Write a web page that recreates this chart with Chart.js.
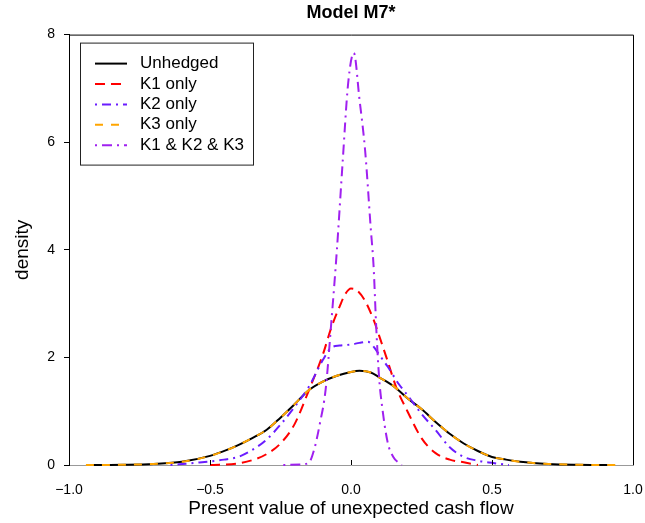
<!DOCTYPE html>
<html>
<head>
<meta charset="utf-8">
<script src="https://cdn.jsdelivr.net/npm/chart.js@4.4.1/dist/chart.umd.min.js"></script>
<style>
  html, body { margin: 0; padding: 0; background: #fff; }
  #wrap { width: 645px; height: 523px; }
</style>
</head>
<body>
<div id="wrap"><canvas id="densityChart" width="645" height="523"></canvas></div>
<script>
// series (x = present value, y = density)
var unhedgedX = [-0.92, -0.8, -0.7, -0.6, -0.5, -0.44, -0.4, -0.35, -0.3, -0.25, -0.2, -0.15, -0.1, -0.05, 0, 0.03, 0.07, 0.1, 0.15, 0.2, 0.25, 0.3, 0.35, 0.4, 0.45, 0.5, 0.55, 0.6, 0.7, 0.8, 0.91];
var unhedgedY = [0, 0.005, 0.02, 0.06, 0.17, 0.28, 0.37, 0.5, 0.65, 0.88, 1.13, 1.39, 1.55, 1.66, 1.73, 1.75, 1.72, 1.63, 1.47, 1.24, 1.04, 0.8, 0.58, 0.4, 0.26, 0.15, 0.1, 0.06, 0.02, 0.005, 0];

var k1X = [-0.5, -0.4, -0.35, -0.3, -0.25, -0.2, -0.15, -0.1, -0.07, -0.04, -0.02, 0, 0.02, 0.05, 0.08, 0.1, 0.13, 0.16, 0.2, 0.25, 0.3, 0.35, 0.4, 0.45];
var k1Y = [0, 0.03, 0.09, 0.2, 0.4, 0.76, 1.38, 2.05, 2.55, 2.95, 3.18, 3.28, 3.25, 3.05, 2.7, 2.4, 1.93, 1.45, 1.0, 0.5, 0.22, 0.1, 0.05, 0];

var k2X = [-0.64, -0.55, -0.45, -0.4, -0.35, -0.3, -0.25, -0.2, -0.15, -0.1, -0.07, -0.04, 0, 0.03, 0.06, 0.08, 0.1, 0.13, 0.17, 0.2, 0.25, 0.3, 0.35, 0.4, 0.45, 0.5, 0.56];
var k2Y = [0, 0.04, 0.1, 0.15, 0.28, 0.47, 0.75, 1.08, 1.45, 1.95, 2.18, 2.22, 2.24, 2.27, 2.29, 2.2, 2.05, 1.83, 1.5, 1.3, 0.95, 0.65, 0.33, 0.15, 0.08, 0.04, 0];

var k3X = [-0.94, -0.8, -0.7, -0.6, -0.5, -0.44, -0.4, -0.35, -0.3, -0.25, -0.2, -0.15, -0.1, -0.05, 0, 0.03, 0.07, 0.1, 0.15, 0.2, 0.25, 0.3, 0.35, 0.4, 0.45, 0.5, 0.55, 0.6, 0.7, 0.8, 0.94];
var k3Y = [0, 0.005, 0.02, 0.06, 0.17, 0.28, 0.37, 0.5, 0.65, 0.88, 1.13, 1.39, 1.55, 1.66, 1.73, 1.75, 1.72, 1.63, 1.47, 1.24, 1.04, 0.8, 0.58, 0.4, 0.26, 0.15, 0.1, 0.06, 0.02, 0.005, 0];

var allX = [-0.24, -0.18, -0.15, -0.13, -0.11, -0.09, -0.07, -0.05, -0.03, -0.01, 0.01, 0.03, 0.05, 0.07, 0.08, 0.09, 0.1, 0.11, 0.13, 0.15, 0.18];
var allY = [0, 0.01, 0.04, 0.3, 0.78, 1.4, 2.64, 4.0, 5.6, 7.1, 7.66, 6.8, 5.85, 4.4, 3.7, 2.5, 1.6, 1.1, 0.42, 0.15, 0];

var seriesNames = ['Unhedged', 'K1 only', 'K2 only', 'K3 only', 'K1 & K2 & K3'];
var xTicks = [-1, -0.5, 0, 0.5, 1];
var yTicks = [0, 2, 4, 6, 8];

var FONT = "'Liberation Sans', Arial, Helvetica, sans-serif";

function pts(xs, ys) {
  var out = [];
  for (var i = 0; i < xs.length; i++) out.push({ x: xs[i], y: ys[i] });
  return out;
}

function fmt(v) {
  var s = Math.abs(v).toFixed(1);
  return v < 0 ? '\u2212' + s : s;
}

// box around the plot + inward ticks on the x axis
var frame = {
  id: 'frame',
  afterDatasetsDraw: function (chart) {
    var ctx = chart.ctx, a = chart.chartArea, xs = chart.scales.x;
    ctx.save();
    ctx.strokeStyle = '#000';
    ctx.lineWidth = 1;
    ctx.beginPath();
    ctx.moveTo(a.left, a.top + 0.5);
    ctx.lineTo(a.right + 0.5, a.top + 0.5);
    ctx.lineTo(a.right + 0.5, a.bottom);
    ctx.stroke();
    ctx.beginPath();
    xs.ticks.forEach(function (t) {
      var px = Math.round(xs.getPixelForValue(t.value)) + 0.5;
      ctx.moveTo(px, a.bottom);
      ctx.lineTo(px, a.bottom - 5);
    });
    ctx.stroke();
    ctx.restore();
  }
};

// legend box in the top left of the plot
var boxLegend = {
  id: 'boxLegend',
  afterDraw: function (chart) {
    var ctx = chart.ctx, a = chart.chartArea;
    var left = a.left + 11, top = a.top + 8, w = 173, h = 122;
    ctx.save();
    ctx.strokeStyle = '#222';
    ctx.lineWidth = 1;
    ctx.strokeRect(left + 0.5, top + 0.5, w, h);
    ctx.font = '17px ' + FONT;
    ctx.textBaseline = 'middle';
    chart.data.datasets.forEach(function (ds, i) {
      var y = top + 21 + i * 20.4;
      ctx.strokeStyle = ds.borderColor;
      ctx.lineWidth = 2;
      ctx.setLineDash(ds.borderDash || []);
      ctx.beginPath();
      ctx.moveTo(left + 15, y);
      ctx.lineTo(left + 47, y);
      ctx.stroke();
      ctx.setLineDash([]);
      ctx.fillStyle = '#000';
      ctx.fillText(ds.label, left + 60, y);
    });
    ctx.restore();
  }
};

var styles = [
  { color: '#000000', dash: [], order: 5 },
  { color: '#ff0000', dash: [10, 6], order: 4 },
  { color: '#6a1cff', dash: [2, 5, 9, 5], order: 3 },
  { color: '#ffa500', dash: [8, 8], order: 2 },
  { color: '#a020f0', dash: [2, 5, 10, 5], order: 1 }
];
var series = [pts(unhedgedX, unhedgedY), pts(k1X, k1Y), pts(k2X, k2Y), pts(k3X, k3Y), pts(allX, allY)];

var datasets = [];
for (var i = 0; i < series.length; i++) {
  datasets.push({
    label: seriesNames[i],
    data: series[i],
    borderColor: styles[i].color,
    borderDash: styles[i].dash,
    borderWidth: 2,
    order: styles[i].order,
    pointRadius: 0,
    fill: false,
    clip: false,
    cubicInterpolationMode: 'monotone'
  });
}

new Chart(document.getElementById('densityChart').getContext('2d'), {
  type: 'line',
  data: { datasets: datasets },
  options: {
    responsive: false,
    animation: false,
    layout: { padding: { left: 0, right: 12, top: 0, bottom: 0 } },
    plugins: {
      legend: { display: false },
      tooltip: { enabled: false },
      title: {
        display: true,
        fullSize: false,
        text: 'Model M7*',
        color: '#000',
        font: { family: FONT, size: 18, weight: 'bold', lineHeight: 1.2 },
        padding: { top: 2, bottom: 11 }
      }
    },
    scales: {
      x: {
        type: 'linear',
        min: -1,
        max: 1,
        afterBuildTicks: function (s) { s.ticks = xTicks.map(function (v) { return { value: v }; }); },
        afterFit: function (s) { s.height = 58; s.paddingLeft = 0; s.paddingRight = 0; },
        ticks: {
          callback: fmt,
          color: '#000',
          font: { family: FONT, size: 14 },
          padding: 17,
          maxRotation: 0,
          autoSkip: false
        },
        grid: { drawOnChartArea: false, drawTicks: false },
        border: { color: '#999', width: 1 },
        title: {
          display: true,
          text: 'Present value of unexpected cash flow',
          color: '#000',
          font: { family: FONT, size: 19, lineHeight: 1.2 },
          padding: { top: 0, bottom: 3 }
        }
      },
      y: {
        min: 0,
        max: 8,
        afterBuildTicks: function (s) { s.ticks = yTicks.map(function (v) { return { value: v }; }); },
        afterFit: function (s) { s.width = 69; s.paddingTop = 0; s.paddingBottom = 0; },
        ticks: {
          callback: function (v) { return String(v); },
          color: '#000',
          font: { family: FONT, size: 14 },
          padding: 9
        },
        grid: { drawOnChartArea: false, drawTicks: true, tickLength: 5, color: '#000' },
        border: { color: '#000', width: 1 },
        title: {
          display: true,
          text: 'density',
          color: '#000',
          font: { family: FONT, size: 19, lineHeight: 1.2 },
          padding: { top: 11, bottom: 0 }
        }
      }
    }
  },
  plugins: [frame, boxLegend]
});
</script>
</body>
</html>
